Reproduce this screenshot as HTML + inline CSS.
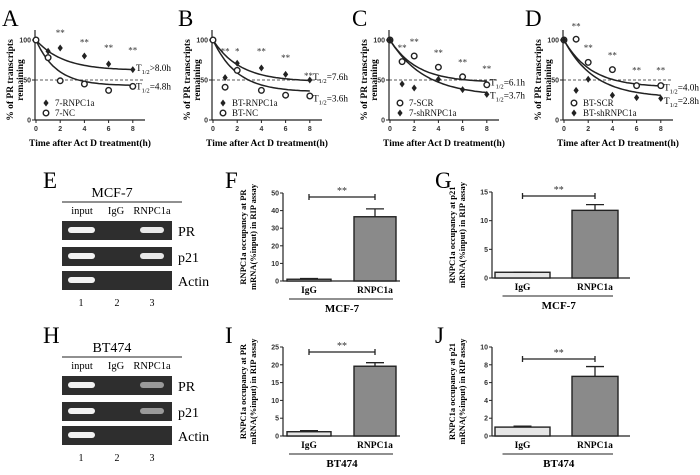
<!DOCTYPE html>
<html><head><meta charset="utf-8">
<style>
html,body{margin:0;padding:0;background:#fff;}
svg{display:block;}
text{font-family:"Liberation Serif",serif;}
.b{font-weight:bold;}
.t{font-family:"Liberation Sans",sans-serif;font-weight:bold;font-size:7px;fill:#333;}
</style></head>
<body>
<svg id="s" width="700" height="475" viewBox="0 0 700 475" xmlns="http://www.w3.org/2000/svg">
</svg>
<script>
var s=document.getElementById('s');var h='';
function tx(x,y,str,sz,extra){h+='<text x="'+x+'" y="'+y+'" font-size="'+sz+'" '+(extra||'')+'>'+str+'</text>';}
function ln(x1,y1,x2,y2,w,ex){h+='<line x1="'+x1+'" y1="'+y1+'" x2="'+x2+'" y2="'+y2+'" stroke="#222" stroke-width="'+(w||1)+'" '+(ex||'')+'/>';}
function dia(x,y){h+='<polygon points="'+x+','+(y-3.5)+' '+(x+2.6)+','+y+' '+x+','+(y+3.5)+' '+(x-2.6)+','+y+'" fill="#222"/>';}
function cir(x,y){h+='<circle cx="'+x+'" cy="'+y+'" r="2.8" fill="#fff" stroke="#222" stroke-width="1.4"/>';}
var panels=[
 {ox:35,L:'A',lx:2,s1:{sym:'d',name:'7-RNPC1a',d:[100,86,90,80,70,63],p:62,k:.45},s2:{sym:'c',name:'7-NC',d:[100,78,49,45,37,42],p:43,k:.6},
  st:[[2,105,'**'],[4,93,'**'],[6,86,'**'],[8,83,'**']],T:[['&gt;8.0h',66],['=4.8h',43]]},
 {ox:212,L:'B',lx:178,s1:{sym:'d',name:'BT-RNPC1a',d:[100,53,71,65,57,50],p:48,k:.45},s2:{sym:'c',name:'BT-NC',d:[100,41,62,37,31,30],p:35,k:.5},
  st:[[1,82,'**'],[2,82,'*'],[4,82,'**'],[6,74,'**']],T:[['=7.6h',55,'**'],['=3.6h',28]]},
 {ox:389,L:'C',lx:352,s1:{sym:'c',name:'7-SCR',d:[100,73,80,66,54,44],p:47,k:.45},s2:{sym:'d',name:'7-shRNPC1a',d:[100,45,40,51,38,32],p:30,k:.35},
  st:[[1,86,'**'],[2,94,'**'],[4,80,'**'],[6,68,'**'],[8,60,'**']],T:[['=6.1h',48],['=3.7h',32]]},
 {ox:563,L:'D',lx:525,s1:{sym:'c',name:'BT-SCR',d:[100,101,72,63,43,43],p:41,k:.45},s2:{sym:'d',name:'BT-shRNPC1a',d:[100,37,51,31,28,27],p:28,k:.4},
  st:[[1,113,'**'],[2,86,'**'],[4,77,'**'],[6,58,'**'],[8,58,'**']],T:[['=4.0h',42],['=2.8h',25]]}
];
var ts=[0,1,2,4,6,8];
panels.forEach(function(P){
 var ox=P.ox;function X(t){return ox+1+t*12.1;}function Y(v){return 120-v*0.8;}
 tx(P.lx,26,P.L,23);
 ln(ox,30,ox,120,1.2);ln(ox,120,ox+110,120,1.2);
 [0,50,100].forEach(function(v){ln(ox-3,Y(v),ox,Y(v));tx(ox-4,Y(v)+2.5,v,7,'class="t" text-anchor="end"');});
 [0,2,4,6,8].forEach(function(t){ln(X(t),120,X(t),123);tx(X(t),131,t,7,'class="t" text-anchor="middle"');});
 ln(ox,80,ox+110,80,0.8,'stroke-dasharray="3,2"');
 [P.s1,P.s2].forEach(function(S){
  var d='';for(var t=0;t<=8.01;t+=0.2){d+=(t?'L':'M')+X(t).toFixed(1)+','+Y(S.p+(100-S.p)*Math.exp(-S.k*t)).toFixed(1);}
  h+='<path d="'+d+'" fill="none" stroke="#222" stroke-width="1.5"/>';
  S.d.forEach(function(v,i){(S.sym=='d'?dia:cir)(X(ts[i]),Y(v));});
 });
 P.st.forEach(function(a){tx(X(a[0]),Y(a[1]),a[2],9,'fill="#333" text-anchor="middle"');});
 P.T.forEach(function(a){var x=ox+101;if(a[2]){tx(x-9,Y(a[1])+3,a[2],9,'fill="#333"');}
  h+='<text x="'+x+'" y="'+(Y(a[1])+4)+'" font-size="9.5" textLength="35" lengthAdjust="spacingAndGlyphs">T<tspan font-size="6.5" dy="3">1/2</tspan><tspan dy="-3">'+a[0]+'</tspan></text>';});
 [[P.s1,106],[P.s2,116]].forEach(function(a){(a[0].sym=='d'?dia:cir)(ox+11,a[1]-3);tx(ox+20,a[1],a[0].name,9,'fill="#111"');});
 tx(ox+55,146,'Time after Act D treatment(h)',9.5,'class="b" text-anchor="middle"');
 h+='<text transform="translate('+(ox-22)+',80) rotate(-90)" font-size="9.5" class="b" text-anchor="middle">% of PR transcripts</text>';
 h+='<text transform="translate('+(ox-12)+',80) rotate(-90)" font-size="9.5" class="b" text-anchor="middle">remaining</text>';
});
// gels
function gel(dy,L,title,dim){
 tx(43,dy+188,L,23);
 tx(112,dy+197,title,14,'text-anchor="middle"');
 ln(62,dy+202,182,dy+202,1);
 tx(82,dy+214,'input',10.5,'text-anchor="middle"');tx(116,dy+214,'IgG',10.5,'text-anchor="middle"');tx(152,dy+214,'RNPC1a',10.5,'text-anchor="middle"');
 var rows=[[221,'PR',1],[247,'p21',1],[271,'Actin',0]];
 rows.forEach(function(r){var y=dy+r[0];
  h+='<rect x="62" y="'+y+'" width="110" height="19" fill="#2e2e2e"/>';
  h+='<rect x="68" y="'+(y+6)+'" width="27" height="6" rx="3" fill="#f2f2f2"/>';
  if(r[2])h+='<rect x="140" y="'+(y+6)+'" width="24" height="6" rx="3" fill="'+(dim?'#9a9a9a':'#e8e8e8')+'"/>';
  tx(178,y+15,r[1],14);});
 tx(81,dy+306,'1',10,'text-anchor="middle"');tx(117,dy+306,'2',10,'text-anchor="middle"');tx(152,dy+306,'3',10,'text-anchor="middle"');
}
gel(0,'E','MCF-7',0);gel(155,'H','BT474',1);
// bars
function bar(o){
 var ax=o.ax,y0=o.y0,y1=o.y1,H=y0-y1;function Y(v){return y0-v/o.max*H;}
 tx(o.lx,o.ly,o.L,23);
 ln(ax,y1,ax,y0,1.2);ln(ax,y0,o.xe,y0,1.2);
 o.ticks.forEach(function(v){ln(ax-3,Y(v),ax,Y(v));tx(ax-4,Y(v)+2.5,v,7,'class="t" text-anchor="end"');});
 h+='<rect x="'+o.b1[0]+'" y="'+Y(o.v1)+'" width="'+(o.b1[1]-o.b1[0])+'" height="'+(y0-Y(o.v1))+'" fill="#e6e6e6" stroke="#222" stroke-width="1.4"/>';
 h+='<rect x="'+o.b2[0]+'" y="'+Y(o.v2)+'" width="'+(o.b2[1]-o.b2[0])+'" height="'+(y0-Y(o.v2))+'" fill="#8a8a8a" stroke="#222" stroke-width="1.4"/>';
 var c2=(o.b2[0]+o.b2[1])/2,c1=(o.b1[0]+o.b1[1])/2;
 ln(c2,Y(o.v2),c2,Y(o.e2),1.3);ln(c2-9,Y(o.e2),c2+9,Y(o.e2),1.3);
 ln(c1-9,Y(o.e1),c1+9,Y(o.e1),1.3);
 var by=o.by;ln(c1,by,c2,by,1.3);ln(c1,by-3,c1,by+3,1.3);ln(c2,by-3,c2,by+3,1.3);
 tx((c1+c2)/2,by-3,'**',10,'fill="#333" text-anchor="middle"');
 tx(c1,y0+12,'IgG',9.5,'class="b" text-anchor="middle"');tx(c2,y0+12,'RNPC1a',9.5,'class="b" text-anchor="middle"');
 ln(c1-20,y0+18,c2+18,y0+18,1);
 tx((c1+c2)/2,y0+31,o.cell,11,'class="b" text-anchor="middle"');
 h+='<text transform="translate('+(ax-37)+','+((y0+y1)/2)+') rotate(-90)" font-size="8.5" class="b" text-anchor="middle">RNPC1a occupancy at '+o.g+'</text>';
 h+='<text transform="translate('+(ax-27)+','+((y0+y1)/2)+') rotate(-90)" font-size="8.5" class="b" text-anchor="middle">mRNA(%input) in RIP assay</text>';
}
bar({L:'F',lx:225,ly:188,ax:283,y0:281,y1:193,xe:400,max:50,ticks:[0,10,20,30,40,50],b1:[287,331],b2:[354,396],v1:1,e1:1.4,v2:36.5,e2:41,by:197,cell:'MCF-7',g:'PR'});
bar({L:'G',lx:435,ly:188,ax:492,y0:278,y1:192,xe:630,max:15,ticks:[0,5,10,15],b1:[495,550],b2:[572,618],v1:1,e1:1,v2:11.8,e2:12.8,by:196,cell:'MCF-7',g:'p21'});
bar({L:'I',lx:225,ly:343,ax:283,y0:436,y1:347,xe:400,max:25,ticks:[0,5,10,15,20,25],b1:[287,331],b2:[354,396],v1:1.2,e1:1.5,v2:19.6,e2:20.6,by:352,cell:'BT474',g:'PR'});
bar({L:'J',lx:435,ly:343,ax:492,y0:436,y1:347,xe:630,max:10,ticks:[0,2,4,6,8,10],b1:[495,550],b2:[572,618],v1:1,e1:1.1,v2:6.7,e2:7.8,by:359,cell:'BT474',g:'p21'});
s.innerHTML=h;
</script>
</body></html>
